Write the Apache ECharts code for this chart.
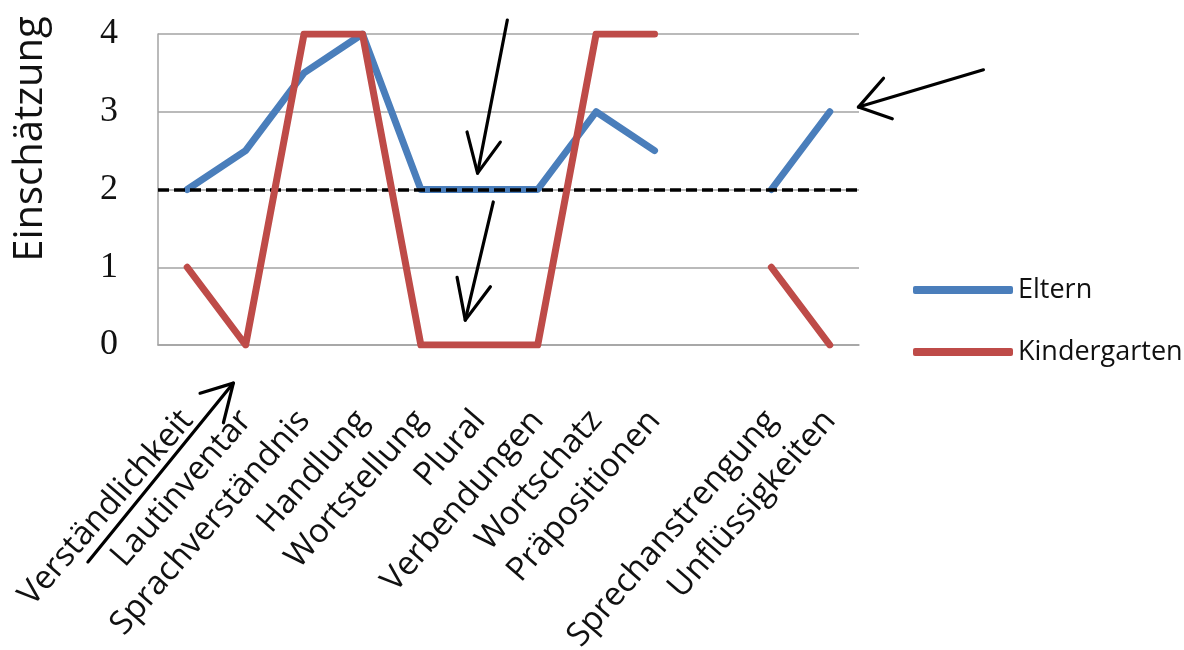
<!DOCTYPE html>
<html>
<head>
<meta charset="utf-8">
<script src="https://cdn.jsdelivr.net/npm/echarts@6/dist/echarts.min.js"></script>
<style>
  html, body { margin: 0; padding: 0; background: #fff; }
  #chart { width: 1184px; height: 650px; }
</style>
</head>
<body>
<div id="chart"></div>
<script>
// Categories (index 9 is an intentional gap between the two groups)
const categories = ['Verständlichkeit', 'Lautinventar', 'Sprachverständnis', 'Handlung',
  'Wortstellung', 'Plural', 'Verbendungen', 'Wortschatz', 'Präpositionen', '',
  'Sprechanstrengung', 'Unflüssigkeiten'];
const eltern = [2, 2.5, 3.5, 4, 2, 2, 2, 3, 2.5, null, 2, 3];
const kindergarten = [1, 0, 4, 4, 0, 0, 0, 4, 4, null, 1, 0];
const yMin = 0, yMax = 4, yStep = 1;
const threshold = 2;

// Hand-drawn arrows, in data units: [start, tip, wingA, wingB] as [categoryIndex, value]
const arrows = [
  [[5.48, 4.18], [4.97, 2.21], [4.79, 2.74], [5.36, 2.61]],
  [[5.24, 1.84], [4.76, 0.32], [4.62, 0.87], [5.19, 0.75]],
  [[13.63, 3.54], [11.49, 3.06], [11.92, 3.43], [12.07, 2.91]],
  [[-1.70, -2.79], [0.79, -0.49], [0.22, -0.62], [0.62, -1.00]]
];

const chart = echarts.init(document.getElementById('chart'));
const gridColor = '#a3a3a3';

chart.setOption({
  animation: false,
  backgroundColor: '#fff',
  grid: { left: 158, right: 325, top: 34, bottom: 305, containLabel: false, outerBoundsMode: 'none' },
  legend: {
    orient: 'vertical',
    left: 908,
    top: 268,
    itemWidth: 100,
    itemHeight: 8,
    itemGap: 28,
    icon: 'roundRect',
    data: ['Eltern', 'Kindergarten'],
    textStyle: { fontFamily: 'Open Sans', fontSize: 27, color: '#111', lineHeight: 34 }
  },
  xAxis: {
    type: 'category',
    data: categories,
    boundaryGap: true,
    axisLine: { show: true, lineStyle: { color: gridColor, width: 1.5 } },
    axisTick: { show: false },
    axisLabel: {
      interval: 0,
      rotate: 49,
      margin: 70,
      fontFamily: 'Open Sans',
      fontSize: 33,
      color: '#111'
    },
    splitLine: { show: false }
  },
  yAxis: {
    type: 'value',
    min: yMin,
    max: yMax,
    interval: yStep,
    axisLine: { show: true, lineStyle: { color: gridColor, width: 1.5 } },
    axisTick: { show: false },
    axisLabel: { margin: 40, fontFamily: 'Liberation Serif', fontSize: 36, color: '#111' },
    splitLine: { lineStyle: { color: gridColor, width: 1.5 } }
  },
  series: [
    {
      name: 'Eltern',
      type: 'line',
      data: eltern,
      connectNulls: false,
      showSymbol: false,
      symbol: 'none',
      color: '#4a7ebb',
      lineStyle: { width: 7, color: '#4a7ebb', cap: 'round', join: 'round' },
      z: 2,
      markLine: {
        silent: true,
        symbol: 'none',
        label: { show: false },
        lineStyle: { color: '#000', width: 3.5, type: [11, 5] },
        data: [{ yAxis: threshold }],
        z: 3
      }
    },
    {
      name: 'Kindergarten',
      type: 'line',
      data: kindergarten,
      connectNulls: false,
      showSymbol: false,
      symbol: 'none',
      color: '#be4b48',
      lineStyle: { width: 7, color: '#be4b48', cap: 'round', join: 'round' },
      z: 4
    }
  ]
});

// Map data units to pixels (linear in both directions; category index may be fractional)
const p0 = chart.convertToPixel({ gridIndex: 0 }, [0, 0]);
const p1 = chart.convertToPixel({ gridIndex: 0 }, [1, 1]);
function toPx(pt) {
  return [p0[0] + (p1[0] - p0[0]) * pt[0], p0[1] + (p1[1] - p0[1]) * pt[1]];
}

const graphics = [];
arrows.forEach(function (a) {
  const s = toPx(a[0]), t = toPx(a[1]), w1 = toPx(a[2]), w2 = toPx(a[3]);
  graphics.push({
    type: 'polyline', z: 10, silent: true,
    shape: { points: [s, t] },
    style: { stroke: '#000', lineWidth: 3.2, lineCap: 'round', fill: null }
  });
  graphics.push({
    type: 'polyline', z: 10, silent: true,
    shape: { points: [w1, t, w2] },
    style: { stroke: '#000', lineWidth: 3.2, lineCap: 'round', lineJoin: 'round', fill: null }
  });
});

// Rotated y-axis title
graphics.push({
  type: 'text',
  x: 31,
  y: 139,
  rotation: Math.PI / 2,
  style: {
    text: 'Einschätzung',
    fontFamily: 'Open Sans',
    fontSize: 40,
    fill: '#111',
    align: 'center',
    verticalAlign: 'middle'
  }
});

chart.setOption({ graphic: graphics });
</script>
</body>
</html>
